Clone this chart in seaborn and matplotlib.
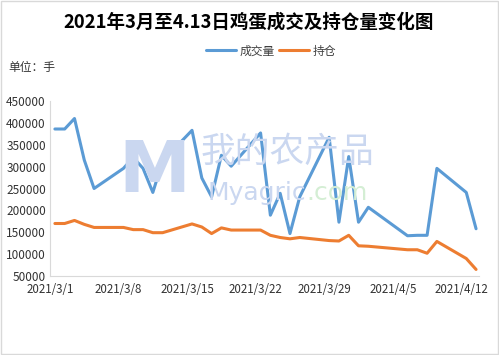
import numpy as np
import pandas as pd
import seaborn as sns
import matplotlib.pyplot as plt
import matplotlib.dates as mdates
from matplotlib.patches import Rectangle
from matplotlib.ticker import FuncFormatter

# data
trade_dates = ["2021-03-01", "2021-03-02", "2021-03-03", "2021-03-04", "2021-03-05",
               "2021-03-08", "2021-03-09", "2021-03-10", "2021-03-11", "2021-03-12",
               "2021-03-15", "2021-03-16", "2021-03-17", "2021-03-18", "2021-03-19",
               "2021-03-22", "2021-03-23", "2021-03-24", "2021-03-25", "2021-03-26",
               "2021-03-29", "2021-03-30", "2021-03-31", "2021-04-01", "2021-04-02",
               "2021-04-06", "2021-04-07", "2021-04-08", "2021-04-09",
               "2021-04-12", "2021-04-13"]
volume = [386000, 386000, 410000, 315000, 250000,
          296000, 321000, 296000, 241000, 313000,
          383000, 274000, 231000, 326000, 301000,
          377000, 189000, 239000, 147000, 231000,
          367000, 173000, 323000, 173000, 207000,
          142000, 143000, 143000, 296000,
          241000, 158000]
holding = [170000, 170000, 177000, 168000, 161000,
           161000, 156000, 156000, 149000, 149000,
           169000, 162000, 147000, 160000, 155000,
           155000, 143000, 138000, 135000, 138000,
           131000, 130000, 143000, 119000, 118000,
           110000, 110000, 102000, 129000,
           90000, 65000]
series_names = ["成交量", "持仓"]
tick_dates = ["2021-03-01", "2021-03-08", "2021-03-15", "2021-03-22",
              "2021-03-29", "2021-04-05", "2021-04-12"]
y_ticks = [50000, 100000, 150000, 200000, 250000, 300000, 350000, 400000, 450000]

sns.set_style("white")
plt.rcParams['font.family'] = ['Noto Sans CJK SC', 'DejaVu Sans']

# excel date axis puts each point in the middle of its day slot
x = pd.to_datetime(trade_dates) + pd.Timedelta(hours=12)
df = pd.DataFrame({
    "date": np.concatenate([x, x]),
    "value": volume + holding,
    "series": [series_names[0]] * len(x) + [series_names[1]] * len(x),
})

fig = plt.figure(figsize=(4.99, 3.55), dpi=100)
ax = fig.add_axes([50 / 499, 1 - 276 / 355, 429 / 499, 175 / 355])

# watermark
wm_blue = "#cad7f0"
fig.text(154 / 499, 1 - 172 / 355, "M", fontsize=52, fontweight="bold", color=wm_blue,
         ha="center", va="center", family="DejaVu Sans", zorder=0)
fig.text(287 / 499, 1 - 152 / 355, "我的农产品", fontsize=25, color=wm_blue,
         ha="center", va="center", zorder=0)
fig.text(207 / 499, 1 - 193 / 355, "Myagric", fontsize=18, color=wm_blue,
         ha="left", va="center", family="DejaVu Sans", zorder=0)
fig.text(306 / 499, 1 - 193 / 355, ".com", fontsize=18, color="#d4eed4",
         ha="left", va="center", family="DejaVu Sans", zorder=0)
ax.patch.set_alpha(0)

sns.lineplot(data=df, x="date", y="value", hue="series", ax=ax,
             palette={"成交量": "#5b9bd5", "持仓": "#ed7d31"}, linewidth=2.2)

ax.set_ylim(50000, 450000)
ax.set_yticks(y_ticks)
ax.yaxis.set_major_formatter(FuncFormatter(lambda v, p: "%d" % v))
start = pd.Timestamp("2021-03-01")
ax.set_xlim(start, start + pd.Timedelta(days=43.8))
ax.set_xticks(pd.to_datetime(tick_dates))
ax.xaxis.set_major_formatter(FuncFormatter(
    lambda v, p: "{d.year}/{d.month}/{d.day}".format(d=mdates.num2date(v))))
ax.set_xlabel("")
ax.set_ylabel("")
for s in ["top", "right"]:
    ax.spines[s].set_visible(False)
for s in ["left", "bottom"]:
    ax.spines[s].set_color("#d9d9d9")
ax.tick_params(axis="x", length=4, direction="inout", color="#d9d9d9",
               labelsize=8.3, labelcolor="#333333", pad=3)
ax.tick_params(axis="y", length=0, labelsize=8.5, labelcolor="#333333", pad=3)

handles, labels = ax.get_legend_handles_labels()
ax.get_legend().remove()
fig.legend(handles, labels, loc="center", bbox_to_anchor=(271 / 499, 1 - 51 / 355),
           ncol=2, frameon=False, fontsize=8.5, handlelength=2.6,
           handletextpad=0.3, columnspacing=0.3, labelcolor="#404040")

fig.suptitle("2021年3月至4.13日鸡蛋成交及持仓量变化图", x=249 / 499, y=1 - 22 / 355,
             va="center", fontsize=13.3, fontweight="bold", color="#000000")
fig.text(8 / 499, 1 - 68 / 355, "单位：手", fontsize=8.5, color="#333333",
         ha="left", va="center")

fig.patches.append(Rectangle((0.002, 0.003), 0.996, 0.994, transform=fig.transFigure,
                             fill=False, edgecolor="#d9d9d9", linewidth=1))

fig.savefig("out.png", dpi=100)
